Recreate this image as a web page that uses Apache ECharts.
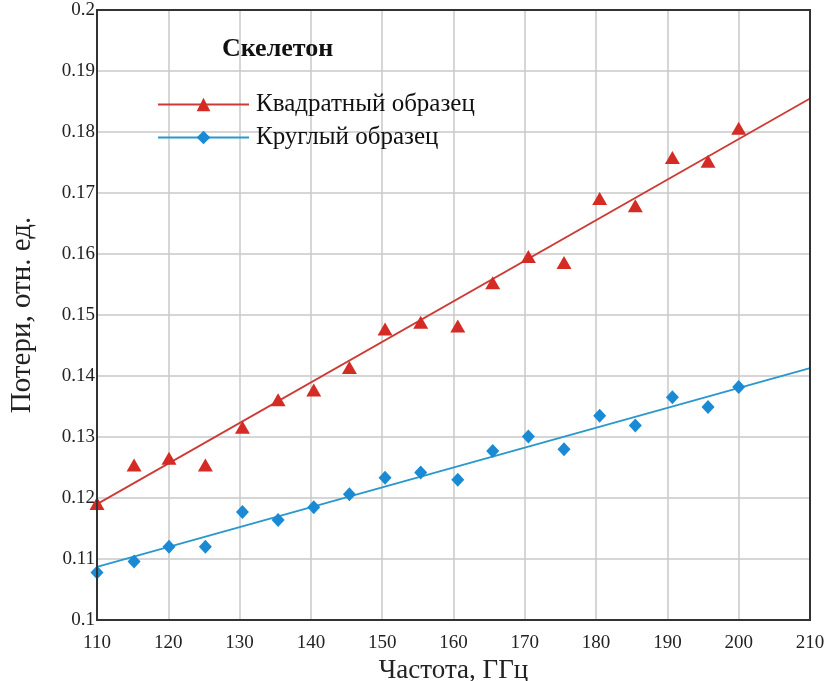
<!DOCTYPE html>
<html>
<head>
<meta charset="utf-8">
<script src="https://cdn.jsdelivr.net/npm/echarts@6/dist/echarts.min.js"></script>
<style>html,body{margin:0;padding:0;background:#fff;}#c{width:834px;height:681px;}</style>
</head>
<body>
<div id="c"></div>
<script>
var titleText = 'Скелетон';
var seriesNames = ['Квадратный образец', 'Круглый образец'];
var xName = 'Частота, ГГц';
var yName = 'Потери, отн. ед.';

var freqRed = [110, 115.2, 120.1, 125.2, 130.4, 135.4, 140.4, 145.4, 150.4, 155.4, 160.6, 165.5, 170.5, 175.5, 180.5, 185.5, 190.7, 195.7, 200];
var lossRed = [0.1191, 0.1254, 0.1265, 0.1254, 0.1316, 0.1361, 0.1377, 0.1414, 0.1477, 0.1488, 0.1482, 0.1553, 0.1596, 0.1586, 0.1691, 0.1679, 0.1758, 0.1752, 0.1806];
var freqBlue = [110, 115.2, 120.1, 125.2, 130.4, 135.4, 140.4, 145.4, 150.4, 155.4, 160.6, 165.5, 170.5, 175.5, 180.5, 185.5, 190.7, 195.7, 200];
var lossBlue = [0.1078, 0.1096, 0.1120, 0.1120, 0.1177, 0.1164, 0.1185, 0.1206, 0.1233, 0.1242, 0.1230, 0.1277, 0.1301, 0.1280, 0.1335, 0.1319, 0.1365, 0.1349, 0.1382];
var fitRedX = [110, 210];
var fitRedY = [0.1190, 0.1855];
var fitBlueX = [110, 210];
var fitBlueY = [0.1087, 0.1413];

function pairs(xs, ys) { return xs.map(function (x, i) { return [x, ys[i]]; }); }

var RED = '#d42b25', RED_LINE = '#cc3b35';
var BLUE = '#1a8ad4', BLUE_LINE = '#2a98cc';
var FONT = '"Liberation Serif", "DejaVu Serif", serif';

var chart = echarts.init(document.getElementById('c'), null, {renderer: 'canvas'});
chart.setOption({
  animation: false,
  backgroundColor: '#fff',
  title: {
    text: titleText, left: 217, top: 31,
    textStyle: {fontFamily: FONT, fontSize: 26, fontWeight: 'bold', color: '#111'}
  },
  legend: {
    data: seriesNames,
    orient: 'vertical',
    left: 152, top: 87,
    itemWidth: 91, itemHeight: 17, itemGap: 8,
    textStyle: {fontFamily: FONT, fontSize: 25, color: '#111', padding: [0,0,0,2]}
  },
  grid: {left: 97, right: 24, top: 10, bottom: 61, outerBoundsMode: 'none', containLabel: false},
  xAxis: {
    type: 'value', min: 110, max: 210, interval: 10,
    name: xName, nameLocation: 'middle', nameGap: 32,
    nameTextStyle: {fontFamily: FONT, fontSize: 27, color: '#222'},
    axisLine: {show: true, lineStyle: {color: '#333', width: 2}},
    axisTick: {show: false},
    axisLabel: {fontFamily: FONT, fontSize: 19, color: '#222', margin: 14},
    splitLine: {show: true, lineStyle: {color: '#c8c8c8', width: 1.5}}
  },
  yAxis: {
    type: 'value', min: 0.1, max: 0.2, interval: 0.01,
    name: yName, nameLocation: 'middle', nameGap: 60,
    nameTextStyle: {fontFamily: FONT, fontSize: 29, color: '#222'},
    axisLine: {show: true, lineStyle: {color: '#333', width: 2}},
    axisTick: {show: false},
    axisLabel: {fontFamily: FONT, fontSize: 19, color: '#222', margin: 2,
      formatter: function (v) { return String(+v.toFixed(2)); }},
    splitLine: {show: true, lineStyle: {color: '#c8c8c8', width: 1.5}}
  },
  series: [
    {
      name: seriesNames[0], type: 'line', data: pairs(fitRedX, fitRedY),
      symbol: 'triangle', symbolSize: 14, showSymbol: false,
      lineStyle: {color: RED_LINE, width: 1.8}, itemStyle: {color: RED},
      z: 2, silent: true
    },
    {
      name: seriesNames[1], type: 'line', data: pairs(fitBlueX, fitBlueY),
      symbol: 'diamond', symbolSize: 14, showSymbol: false,
      lineStyle: {color: BLUE_LINE, width: 1.8}, itemStyle: {color: BLUE},
      z: 2, silent: true
    },
    {
      name: 'redPts', type: 'scatter', data: pairs(freqRed, lossRed),
      symbol: 'triangle', symbolSize: [15, 13], itemStyle: {color: RED, opacity: 1}, z: 3
    },
    {
      name: 'bluePts', type: 'scatter', data: pairs(freqBlue, lossBlue),
      symbol: 'diamond', symbolSize: [13, 14], itemStyle: {color: BLUE, opacity: 1}, z: 3
    }
  ],
  graphic: []
});
// outer box (top and right borders)
var gm = chart.getModel().getComponent('grid').coordinateSystem.getRect();
chart.setOption({graphic: [{type: 'rect', shape: {x: gm.x, y: gm.y, width: gm.width, height: gm.height},
  style: {fill: 'none', stroke: '#333', lineWidth: 2}, z: 10, silent: true}]});
</script>
</body>
</html>
